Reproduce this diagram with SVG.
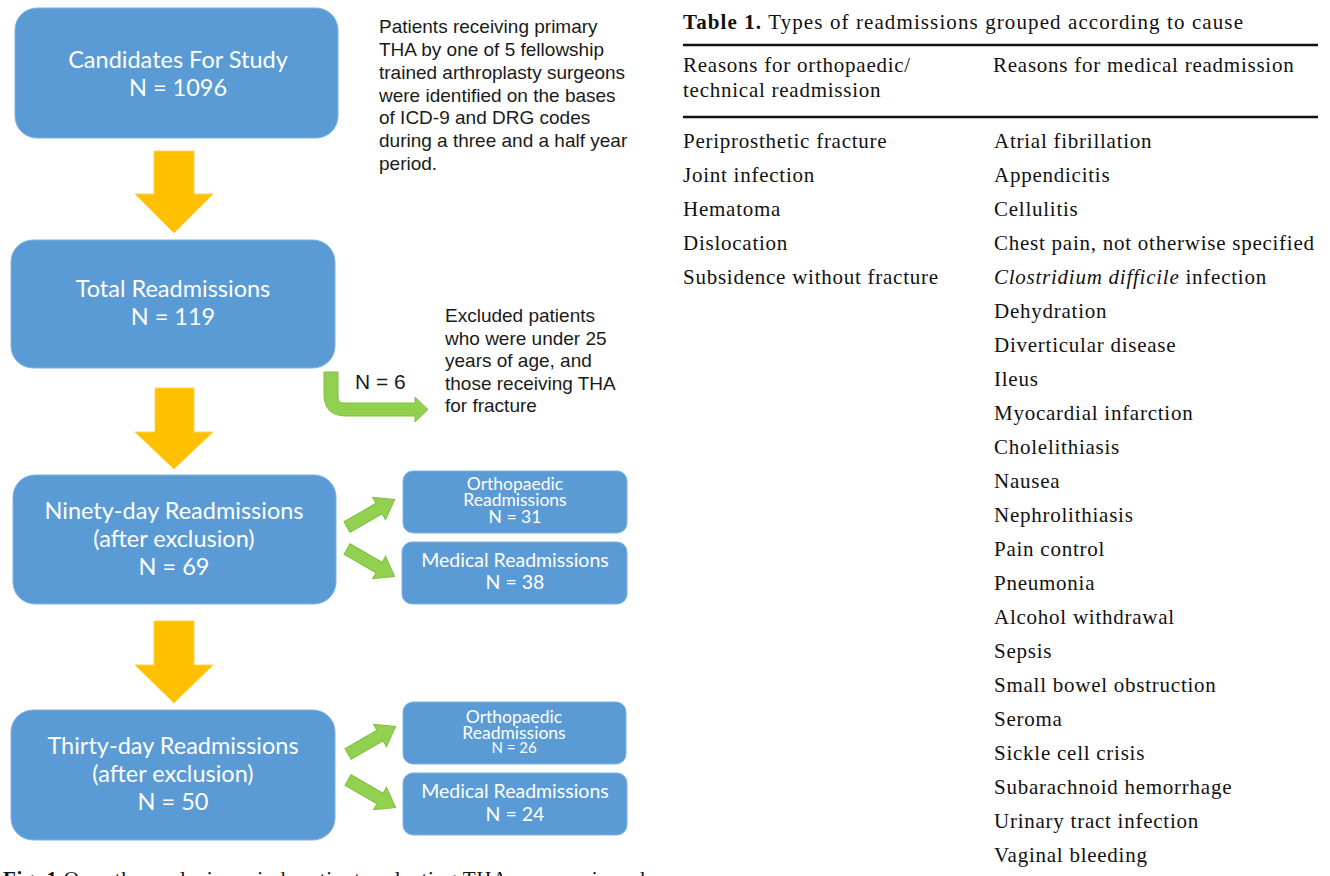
<svg xmlns="http://www.w3.org/2000/svg" width="1330" height="876" viewBox="0 0 1330 876">
<style>
.box{fill:#5B9BD5;stroke:#7DB1E3;stroke-width:1}
.yarrow{fill:#FFC000;stroke:#FFD24D;stroke-width:1}
.garrow{fill:#92D050;stroke:#7FBF45;stroke-width:1}
.bt{font-family:Lato,"Open Sans",sans-serif;fill:#ffffff;text-anchor:middle}
.big{font-size:23.5px}
.sm{font-size:17.5px}
.md{font-size:19.5px}
.note{font-family:"Liberation Sans",Arial,sans-serif;font-size:19px;fill:#1a1a1a}
.tb{font-family:"Liberation Serif","Times New Roman",serif;font-size:21px;fill:#111111;letter-spacing:0.75px}
.rule{stroke:#111111;stroke-width:2.5}
</style>
<rect width="1330" height="876" fill="#ffffff"/>

<g id="connectors">
<path class="yarrow" d="M154,151 H194 V194 H213 L174,233 L135,194 H154 Z"/>
<path class="yarrow" d="M155,388 H194 V432 H213 L174,469 L135,432 H155 Z"/>
<path class="yarrow" d="M154,621 H194 V665 H213 L174,703 L135,665 H154 Z"/>
<path class="garrow" d="M324,372 H338 V397 Q338,403 344,403 H415 V397 L428,409.5 L415,422 V416 H346 Q324,416 324,394 Z"/>
<path class="garrow" transform="translate(347,527) rotate(-30)" d="M0,-6 H37 V-13 L55,0 L37,13 V6 H0 Z"/>
<path class="garrow" transform="translate(347,549) rotate(30)" d="M0,-6 H37 V-13 L55,0 L37,13 V6 H0 Z"/>
<path class="garrow" transform="translate(348,754) rotate(-30)" d="M0,-6 H37 V-13 L55,0 L37,13 V6 H0 Z"/>
<path class="garrow" transform="translate(348,780) rotate(30)" d="M0,-6 H37 V-13 L55,0 L37,13 V6 H0 Z"/>
<text class="note" x="355" y="389" style="font-size:21px">N = 6</text>
</g>

<g id="candidates">
<rect class="box" x="15" y="8" width="323" height="130" rx="22"/>
<text class="bt big" x="178" y="68">Candidates For Study</text>
<text class="bt big" x="178" y="96">N = 1096</text>
</g>

<g id="note-candidates">
<text class="note" x="379" y="33">Patients receiving primary</text>
<text class="note" x="379" y="56">THA by one of 5 fellowship</text>
<text class="note" x="379" y="79">trained arthroplasty surgeons</text>
<text class="note" x="379" y="102">were identified on the bases</text>
<text class="note" x="379" y="124">of ICD-9 and DRG codes</text>
<text class="note" x="379" y="147">during a three and a half year</text>
<text class="note" x="379" y="170">period.</text>
</g>

<g id="total">
<rect class="box" x="11" y="240" width="324" height="128" rx="22"/>
<text class="bt big" x="173" y="297">Total Readmissions</text>
<text class="bt big" x="173" y="325">N = 119</text>
</g>

<g id="note-excluded">
<text class="note" x="445" y="322">Excluded patients</text>
<text class="note" x="445" y="345">who were under 25</text>
<text class="note" x="445" y="367">years of age, and</text>
<text class="note" x="445" y="390">those receiving THA</text>
<text class="note" x="445" y="412">for fracture</text>
</g>

<g id="ninety">
<rect class="box" x="13" y="475" width="323" height="129" rx="22"/>
<text class="bt big" x="174" y="519">Ninety-day Readmissions</text>
<text class="bt big" x="174" y="547">(after exclusion)</text>
<text class="bt big" x="174" y="575">N = 69</text>
</g>

<g id="ninety-ortho">
<rect class="box" x="403" y="471" width="224" height="62" rx="10"/>
<text class="bt sm" x="515" y="490">Orthopaedic</text>
<text class="bt sm" x="515" y="506">Readmissions</text>
<text class="bt sm" x="515" y="522.5">N = 31</text>
</g>

<g id="ninety-medical">
<rect class="box" x="402" y="542" width="225" height="62" rx="10"/>
<text class="bt md" x="515" y="567">Medical Readmissions</text>
<text class="bt md" x="515" y="589">N = 38</text>
</g>

<g id="thirty">
<rect class="box" x="11" y="710" width="324" height="130" rx="22"/>
<text class="bt big" x="173" y="754">Thirty-day Readmissions</text>
<text class="bt big" x="173" y="782">(after exclusion)</text>
<text class="bt big" x="173" y="810">N = 50</text>
</g>

<g id="thirty-ortho">
<rect class="box" x="403" y="702" width="223" height="62" rx="10"/>
<text class="bt sm" x="514" y="723">Orthopaedic</text>
<text class="bt sm" x="514" y="738.5">Readmissions</text>
<text class="bt" x="514" y="752.5" style="font-size:15px">N = 26</text>
</g>

<g id="thirty-medical">
<rect class="box" x="403" y="773" width="224" height="62" rx="10"/>
<text class="bt md" x="515" y="798">Medical Readmissions</text>
<text class="bt md" x="515" y="821">N = 24</text>
</g>

<g id="caption">
<text class="tb" x="3" y="886"><tspan font-weight="bold">Fig. 1</tspan>  Over the analysis period, patients selecting THA were reviewed</text>
</g>

<g id="table">
<text class="tb" x="683" y="29" style="letter-spacing:1.1px"><tspan font-weight="bold">Table 1.</tspan>  Types of readmissions grouped according to cause</text>
<line class="rule" x1="683" y1="45" x2="1318" y2="45"/>
<text class="tb" x="683" y="72">Reasons for orthopaedic/</text>
<text class="tb" x="683" y="97">technical readmission</text>
<text class="tb" x="993" y="72">Reasons for medical readmission</text>
<line class="rule" x1="683" y1="117" x2="1318" y2="117"/>
<text class="tb" x="683" y="148">Periprosthetic fracture</text>
<text class="tb" x="683" y="182">Joint infection</text>
<text class="tb" x="683" y="216">Hematoma</text>
<text class="tb" x="683" y="250">Dislocation</text>
<text class="tb" x="683" y="284">Subsidence without fracture</text>
<text class="tb" x="994" y="148">Atrial fibrillation</text>
<text class="tb" x="994" y="182">Appendicitis</text>
<text class="tb" x="994" y="216">Cellulitis</text>
<text class="tb" x="994" y="250">Chest pain, not otherwise specified</text>
<text class="tb" x="994" y="284"><tspan font-style="italic">Clostridium difficile</tspan> infection</text>
<text class="tb" x="994" y="318">Dehydration</text>
<text class="tb" x="994" y="352">Diverticular disease</text>
<text class="tb" x="994" y="386">Ileus</text>
<text class="tb" x="994" y="420">Myocardial infarction</text>
<text class="tb" x="994" y="454">Cholelithiasis</text>
<text class="tb" x="994" y="488">Nausea</text>
<text class="tb" x="994" y="522">Nephrolithiasis</text>
<text class="tb" x="994" y="556">Pain control</text>
<text class="tb" x="994" y="590">Pneumonia</text>
<text class="tb" x="994" y="624">Alcohol withdrawal</text>
<text class="tb" x="994" y="658">Sepsis</text>
<text class="tb" x="994" y="692">Small bowel obstruction</text>
<text class="tb" x="994" y="726">Seroma</text>
<text class="tb" x="994" y="760">Sickle cell crisis</text>
<text class="tb" x="994" y="794">Subarachnoid hemorrhage</text>
<text class="tb" x="994" y="828">Urinary tract infection</text>
<text class="tb" x="994" y="862">Vaginal bleeding</text>
</g>
</svg>
